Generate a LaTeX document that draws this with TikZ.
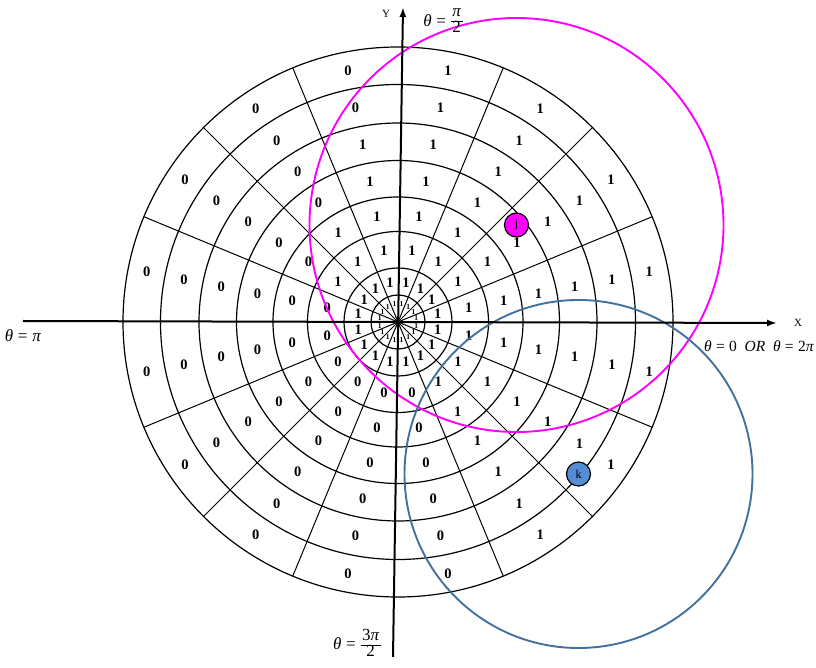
\documentclass[tikz,border=0pt]{standalone}
\usepackage{fontspec}
\setmainfont{Liberation Serif}
\usetikzlibrary{arrows.meta}
\definecolor{jmag}{RGB}{255,0,255}
\definecolor{kline}{RGB}{65,113,156}
\definecolor{kfill}{RGB}{84,141,212}
\newcommand\myfrac[2]{{\renewcommand\arraystretch{0.85}\setlength\tabcolsep{1.5pt}\begin{tabular}{c}#1\\\hline #2\end{tabular}}}
\newcommand\eqsp{\hspace{0.28em}=\hspace{0.28em}}
\tikzset{
  ringline/.style={line width=1.2pt, black},
  spokeline/.style={line width=1pt, black},
  axisline/.style={line width=2pt, black, -{Latex[length=10pt,width=7pt]}},
  cell/.style={inner sep=0pt, font=\bfseries\fontsize{14.5}{14.5}\selectfont},
  cellsmall/.style={inner sep=0pt, font=\bfseries\fontsize{7.5}{7.5}\selectfont},
  anglab/.style={inner sep=0pt, font=\fontsize{17}{17}\selectfont},
  axlab/.style={inner sep=0pt, font=\fontsize{11}{11}\selectfont},
  agent/.style={circle, draw=black, line width=1.2pt, minimum size=24pt, inner sep=0pt, font=\fontsize{12}{12}\selectfont},
}
\begin{document}
\begin{tikzpicture}[x=1pt,y=1pt]
\useasboundingbox (0,0) rectangle (816,667);
\coordinate (C) at (398,345);
\begin{scope}[shift={(C)}]
  \foreach \R in {27,54,90.5,125,161.5,199,237.5,275}
    \draw[ringline] (0,0) circle[radius=\R];
  \foreach \a in {22.5,45,67.5,112.5,135,157.5,202.5,225,247.5,292.5,315,337.5}
    \draw[spokeline] (0,0) -- (\a:275);
  \foreach \sec/\thr in {0/1,1/1,2/1,3/1,4/3,5/5,6/6,7/7,8/7,9/7,10/7,11/7,12/7,13/1,14/1,15/1}{
    \foreach \rg/\md in {1/256.25,2/218.25,3/180.25,4/143.25,5/107.75,6/72.25,7/40.5}{
      \node[cell] (c\rg-\sec) at ({\sec*22.5+11.25}:\md) {\ifnum\rg<\thr\relax 0\else 1\fi};
    }
  }
  \foreach \sec in {0,...,15}
    \node[cellsmall] (i\sec) at ({\sec*22.5+11.25}:18.5) {1};
\end{scope}
\coordinate (jc) at (516.5,442);
\coordinate (kc) at (578.5,193);
\draw[jmag, line width=1.9pt] (jc) circle[radius=207];
\draw[kline, line width=1.9pt] (kc) circle[radius=174];
\coordinate (xs) at (23,346);
\coordinate (xe) at (777,344);
\coordinate (ys) at (393,10);
\coordinate (ye) at (403,660);
\draw[axisline] (xs) -- (xe);
\draw[axisline] (ys) -- (ye);
\node[agent, fill=jmag] (j) at (jc) {j};
\node[agent, fill=kfill] (k) at (kc) {k};
\node[axlab] (xlab) at (798,344) {X};
\node[axlab] (ylab) at (386,653) {Y};
\node[anglab] (t90) at (443,645) {\textit{θ}\eqsp\myfrac{\textit{π}}{2}};
\node[anglab] (t180) at (23,331) {\textit{θ}\eqsp\textit{π}};
\node[anglab, font=\fontsize{15.5}{15.5}\selectfont] (t0) at (759,321) {\textit{θ}\eqsp 0\enspace\textit{OR}\enspace\textit{θ}\eqsp 2\textit{π}};
\node[anglab] (t270) at (357,22) {\textit{θ}\eqsp\myfrac{3\textit{π}}{2}};
\end{tikzpicture}
\end{document}
